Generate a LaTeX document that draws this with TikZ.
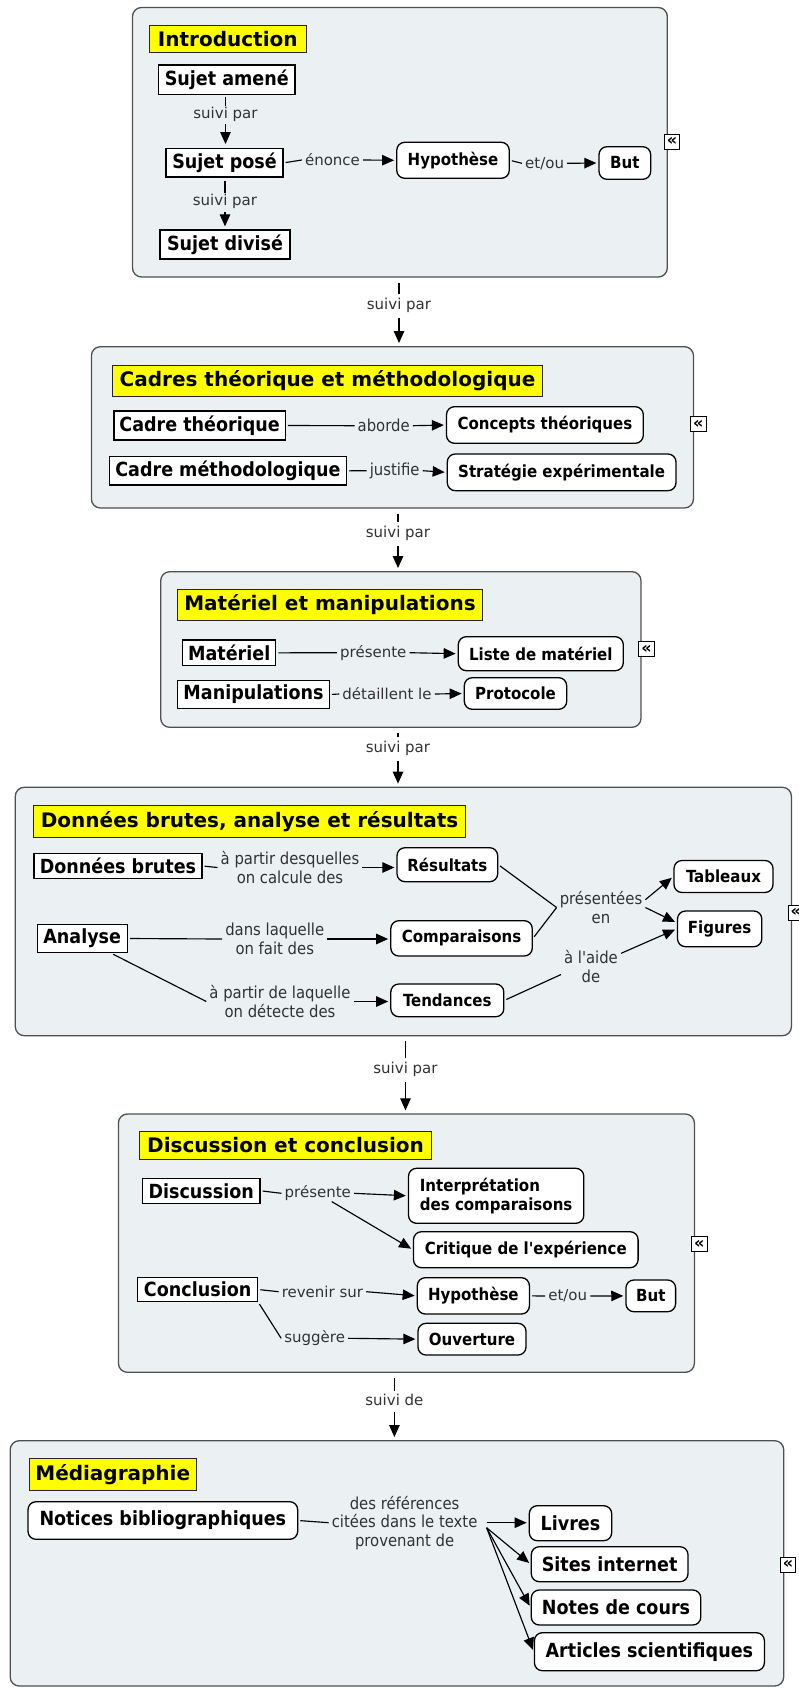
\documentclass[tikz,border=0pt]{standalone}
\usepackage{fontspec}
\setmainfont{DejaVu Sans}[Ligatures=TeXOff]
\newfontfamily\condfont{DejaVu Sans Condensed}[Ligatures=TeXOff]
\usetikzlibrary{arrows.meta,calc}

\definecolor{boxfill}{RGB}{235,241,243}
\definecolor{boxline}{RGB}{80,80,80}
\definecolor{lblgray}{RGB}{50,50,50}
\definecolor{ttlyellow}{RGB}{255,255,0}

\tikzset{
  section/.style={draw=boxline, fill=boxfill, line width=1.3pt, rounded corners=9pt, inner sep=0pt},
  ttl/.style={draw=black!85, fill=ttlyellow, line width=1pt, inner sep=0pt, font=\bfseries\fontsize{20}{24}\selectfont},
  sq/.style={draw=black, fill=white, line width=1.3pt, inner sep=0pt, font=\condfont\bfseries\fontsize{19.5}{22}\selectfont},
  rnd/.style={draw=black, fill=white, line width=1.3pt, rounded corners=8pt, inner sep=0pt, font=\condfont\bfseries\fontsize{16.7}{19}\selectfont},
  rndbig/.style={rnd, font=\condfont\bfseries\fontsize{19.5}{22}\selectfont},
  lbl/.style={text=lblgray, inner xsep=3pt, inner ysep=0.5pt, align=center, font=\fontsize{15}{18.6}\selectfont},
  clbl/.style={lbl, font=\condfont\fontsize{16.5}{18.6}\selectfont},
  cicon/.style={draw=black, fill=white, line width=0.9pt, inner sep=0pt, minimum width=15.5pt, minimum height=15pt, font=\bfseries\fontsize{16}{16}\selectfont},
  link/.style={draw=black, line width=1.15pt, shorten <=2pt},
  arr/.style={draw=black, line width=1.15pt, -{Triangle[length=12pt,width=10.5pt]}, shorten >=2pt},
}

\begin{document}
\begin{tikzpicture}[x=1pt,y=-1pt]
\useasboundingbox (0,0) rectangle (798,1689);
\fill[white] (0,0) rectangle (798,1689);

% ---------- sections ----------
\node[section, minimum width=534.8pt, minimum height=269.5pt] (S1) at (399.9,142.25) {};
\node[section, minimum width=602.1pt, minimum height=161.3pt] (S2) at (392.45,427.35) {};
\node[section, minimum width=480.3pt, minimum height=155.6pt] (S3) at (400.85,649.5) {};
\node[section, minimum width=776.1pt, minimum height=248.4pt] (S4) at (403.35,911.5) {};
\node[section, minimum width=576pt, minimum height=258.3pt] (S5) at (406.4,1243.15) {};
\node[section, minimum width=773.5pt, minimum height=245.3pt] (S6) at (396.95,1563.35) {};

% ---------- titles ----------
\node[ttl, minimum width=156.4pt, minimum height=26.6pt] (T1) at (227.8,39) {Introduction};
\node[ttl, minimum width=429.7pt, minimum height=31pt] (T2) at (327.55,380.5) {Cadres théorique et méthodologique};
\node[ttl, minimum width=304.6pt, minimum height=30.7pt] (T3) at (330,604.65) {Matériel et manipulations};
\node[ttl, minimum width=432pt, minimum height=32.3pt] (T4) at (249.6,821.15) {Données brutes, analyse et résultats};
\node[ttl, minimum width=292pt, minimum height=28pt] (T5) at (285.5,1145) {Discussion et conclusion};
\node[ttl, minimum width=166.5pt, minimum height=31.7pt] (T6) at (112.75,1474.15) {Médiagraphie};

% ---------- collapse icons ----------
\node[cicon] (iconA) at (672.15,141.65) {«};
\node[cicon] (iconB) at (698.4,424.2) {«};
\node[cicon] (iconC) at (646.5,649.2) {«};
\node[cicon] (iconD) at (795.7,912.5) {«};
\node[cicon] (iconE) at (699.3,1244.2) {«};
\node[cicon] (iconF) at (788,1564.7) {«};

% ---------- Introduction ----------
\node[sq, minimum width=136.5pt, minimum height=29.3pt] (amene) at (226.75,79.65) {Sujet amené};
\node[sq, minimum width=117pt, minimum height=28.3pt] (pose) at (224.5,162.85) {Sujet posé};
\node[sq, minimum width=130pt, minimum height=29pt] (divise) at (225,244.5) {Sujet divisé};
\node[rnd, minimum width=112.5pt, minimum height=36pt] (hypA) at (453,160.3) {Hypothèse};
\node[rnd, minimum width=51.7pt, minimum height=32.6pt] (butA) at (624.85,163) {But};
\node[lbl] (lspA) at (225.5,114.3) {suivi par};
\node[lbl] (lspB) at (225,201) {suivi par};
\node[lbl] (lenA) at (332.5,160) {énonce};
\node[lbl] (leoA) at (544.6,163.3) {et/ou};

\draw[link] (lspA.north |- amene.south) -- (lspA.north);
\draw[arr, shorten <=2pt, shorten >=4pt] (lspA.south) -- (lspA.south |- pose.north);
\draw[link, shorten <=3pt] (lspB.north |- pose.south) -- (lspB.north);
\draw[arr, shorten <=3pt, shorten >=3pt] (lspB.south) -- (lspB.south |- divise.north);
\draw[link] (pose.east) -- (lenA.west);
\draw[arr] (lenA.east) -- (hypA.west);
\draw[link] (hypA.east) -- (leoA.west);
\draw[arr] (leoA.east) -- (butA.west);

% ---------- Cadres ----------
\node[sq, minimum width=171.4pt, minimum height=29pt] (ct) at (199.6,425.5) {Cadre théorique};
\node[rnd, minimum width=196.8pt, minimum height=36.6pt] (cpt) at (544.9,425) {Concepts théoriques};
\node[sq, minimum width=237.1pt, minimum height=28.3pt] (cm) at (227.95,470.85) {Cadre méthodologique};
\node[rnd, minimum width=228.7pt, minimum height=36.7pt] (strat) at (561.65,472.35) {Stratégie expérimentale};
\node[clbl] (lab) at (383.7,425.7) {aborde};
\node[clbl] (lju) at (394.7,470.7) {justifie};
\draw[link] (ct.east) -- (lab.west);
\draw[arr] (lab.east) -- (cpt.west);
\draw[link] (cm.east) -- (lju.west);
\draw[arr] (lju.east) -- (strat.west);

% ---------- Matériel ----------
\node[sq, minimum width=93pt, minimum height=25.7pt] (mat) at (229.2,652.85) {Matériel};
\node[rnd, minimum width=165pt, minimum height=34pt] (liste) at (540.8,653.7) {Liste de matériel};
\node[sq, minimum width=151.6pt, minimum height=27.6pt] (manip) at (253.5,694.5) {Manipulations};
\node[rnd, minimum width=102.4pt, minimum height=31.6pt] (proto) at (515.5,693.5) {Protocole};
\node[lbl] (lpr) at (373.3,652.7) {présente};
\node[lbl] (lde) at (387,694) {détaillent le};
\draw[link] (mat.east) -- (lpr.west);
\draw[arr] (lpr.east) -- (liste.west);
\draw[link] (manip.east) -- (lde.west);
\draw[arr] (lde.east) -- (proto.west);

% ---------- Données ----------
\node[sq, minimum width=168pt, minimum height=25.4pt] (db) at (118,866) {Données brutes};
\node[rnd, minimum width=100.7pt, minimum height=34pt] (res) at (447.35,864.7) {Résultats};
\node[rnd, minimum width=99pt, minimum height=32pt] (tab) at (723.5,876.5) {Tableaux};
\node[rnd, minimum width=141.5pt, minimum height=35.3pt] (comp) at (461.55,938.35) {Comparaisons};
\node[rnd, minimum width=84.3pt, minimum height=35.7pt] (fig) at (719.65,928.85) {Figures};
\node[sq, minimum width=90pt, minimum height=28.4pt] (ana) at (82.2,938.5) {Analyse};
\node[rnd, minimum width=113pt, minimum height=32.7pt] (tend) at (447.3,1000.35) {Tendances};
\node[clbl] (ld1) at (290,867.5) {à partir desquelles\\on calcule des};
\node[clbl] (ld2) at (274.8,939) {dans laquelle\\on fait des};
\node[clbl] (ld3) at (280,1001.5) {à partir de laquelle\\on détecte des};
\node[clbl] (lpe) at (601,907.5) {présentées\\en};
\node[clbl] (lai) at (591,966.5) {à l'aide\\de};
\draw[link] (db.east) -- (ld1.west);
\draw[arr] (ld1.east) -- (ld1.east -| res.west);
\draw[link] (ana.east) -- (ld2.west);
\draw[arr] (ld2.east) -- (ld2.east -| comp.west);
\draw[link] (ana) -- (ld3.west);
\draw[arr] (ld3.east) -- (ld3.east -| tend.west);
\draw[link] (res.east) -- (lpe.west);
\draw[link] (comp.east) -- (lpe.west);
\draw[arr] (lpe.10) -- (tab.west);
\draw[arr] (lpe.east) -- (fig.172);
\draw[link] (tend.east) -- (lai.195);
\draw[arr] (lai) -- (fig.west);

% ---------- Discussion ----------
\node[sq, minimum width=117.5pt, minimum height=25pt] (disc) at (201.25,1190.8) {Discussion};
\node[rnd, minimum width=175.3pt, minimum height=55pt, align=left] (interp) at (496.15,1195.8) {Interprétation\\des comparaisons};
\node[rnd, minimum width=224.6pt, minimum height=36pt] (crit) at (525.8,1249.7) {Critique de l'expérience};
\node[sq, minimum width=120.1pt, minimum height=24.4pt] (concl) at (197.65,1289.5) {Conclusion};
\node[rnd, minimum width=112.1pt, minimum height=36.3pt] (hypB) at (473.35,1295.85) {Hypothèse};
\node[rnd, minimum width=49.7pt, minimum height=31.7pt] (butB) at (650.75,1295.85) {But};
\node[rnd, minimum width=108pt, minimum height=31.7pt] (ouv) at (472,1339.15) {Ouverture};
\node[lbl] (lpr2) at (317.8,1193.3) {présente};
\node[lbl] (lrs) at (322.4,1291.7) {revenir sur};
\node[lbl] (lsg) at (314.7,1338.3) {suggère};
\node[lbl] (leoB) at (567.7,1296) {et/ou};
\draw[link] (disc.east) -- (lpr2.west);
\draw[arr] (lpr2.east) -- (interp.west);
\draw[arr] (lpr2) -- (crit.west);
\draw[link] (concl.east) -- (lrs.west);
\draw[arr] (lrs.east) -- (hypB.west);
\draw[link] (concl.south east) -- (lsg.west);
\draw[arr] (lsg.east) -- (ouv.west);
\draw[link] (hypB.east) -- (leoB.west);
\draw[arr] (leoB.east) -- (butB.west);

% ---------- Médiagraphie ----------
\node[rndbig, minimum width=269.7pt, minimum height=37.6pt] (notices) at (162.85,1520.5) {Notices bibliographiques};
\node[rndbig, minimum width=82.4pt, minimum height=35pt] (livres) at (570.5,1523.2) {Livres};
\node[rndbig, minimum width=156.7pt, minimum height=35pt] (sites) at (609.65,1564.2) {Sites internet};
\node[rndbig, minimum width=169.5pt, minimum height=35pt] (notes) at (616.05,1607.5) {Notes de cours};
\node[rndbig, minimum width=230pt, minimum height=38pt] (articles) at (649.4,1651.7) {Articles scientifiques};
\node[clbl] (lref) at (404.6,1522.7) {des références\\citées dans le texte\\provenant de};
\coordinate (rfA) at ($(lref.east)+(6,0)$);
\coordinate (rfB) at ($(lref.east)+(6,5)$);
\draw[link] (notices.east) -- (lref.west);
\draw[arr] (rfA) -- (rfA -| livres.west);
\draw[arr] (rfB) -- (sites.west);
\draw[arr] (rfB) -- (notes.west);
\draw[arr] (rfB) -- (articles.west);

% ---------- links between sections ----------
\node[lbl] (l12) at (399,305) {suivi par};
\node[lbl] (l23) at (398,533.3) {suivi par};
\node[lbl] (l34) at (398,748.3) {suivi par};
\node[lbl] (l45) at (405.5,1069.3) {suivi par};
\node[lbl] (l56) at (394.4,1400) {suivi de};
\foreach \a/\l/\b in {S1/l12/S2, S2/l23/S3, S3/l34/S4, S4/l45/S5, S5/l56/S6}{
  \draw[link, shorten <=5pt, shorten >=3pt] (\l.north |- \a.south) -- (\l.north);
  \draw[arr, shorten <=5pt, shorten >=3pt] (\l.south) -- (\l.south |- \b.north);
}
\end{tikzpicture}
\end{document}
